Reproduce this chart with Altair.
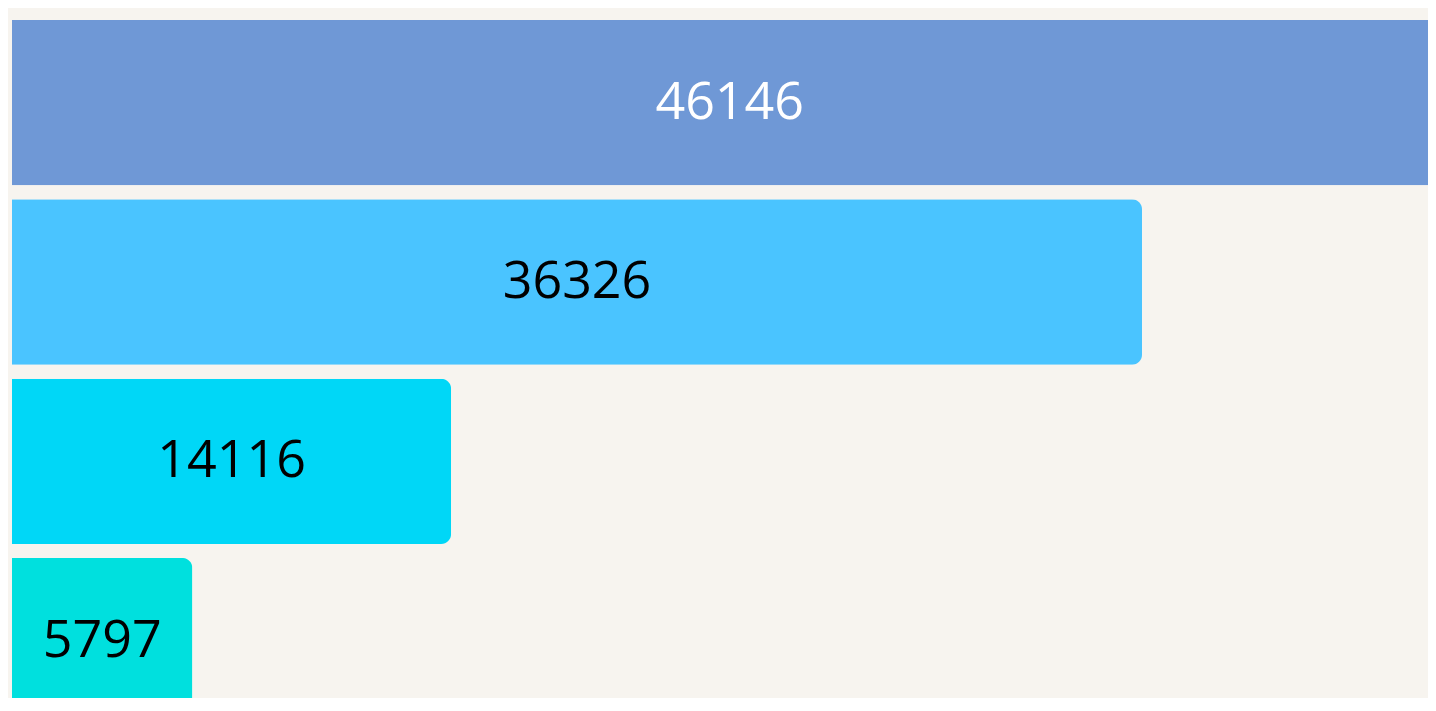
import altair as alt
import pandas as pd

categories = ["A", "B", "C", "D"]
values = [46146, 36326, 14116, 5797]
bar_colors = ["#6f98d6", "#4ac4ff", "#00d7f7", "#00e0de"]
text_colors = ["#ffffff", "#000000", "#000000", "#000000"]

df = pd.DataFrame({
    "cat": categories,
    "value": values,
    "half": [v / 2 for v in values],
    "label": [str(v) for v in values],
    "tcolor": text_colors,
})

yscale = alt.Scale(range=[0, 717.3], paddingInner=0.078, paddingOuter=0.039)
y = alt.Y("cat:N", sort=categories, axis=None, scale=yscale)
xscale = alt.Scale(domain=[0, 45520], nice=False, zero=True)

base = alt.Chart(df)

bars = base.mark_bar(cornerRadiusEnd=10).encode(
    y=y,
    x=alt.X("value:Q", axis=None, scale=xscale),
    color=alt.Color("cat:N", scale=alt.Scale(domain=categories, range=bar_colors), legend=None),
)

texts = base.mark_text(font="Open Sans", fontSize=52, align="center", baseline="middle").encode(
    y=y,
    x=alt.X("half:Q", scale=xscale),
    text="label:N",
    color=alt.Color("tcolor:N", scale=None),
)

chart = alt.layer(bars, texts).properties(
    width=1416,
    height=685,
    background="#f7f4ef",
    padding={"left": 4, "top": 5, "right": 0, "bottom": 0},
    autosize=alt.AutoSizeParams(type="none"),
).configure_view(stroke=None)

chart.save("out.html", embed_options={"renderer": "svg", "actions": False})
